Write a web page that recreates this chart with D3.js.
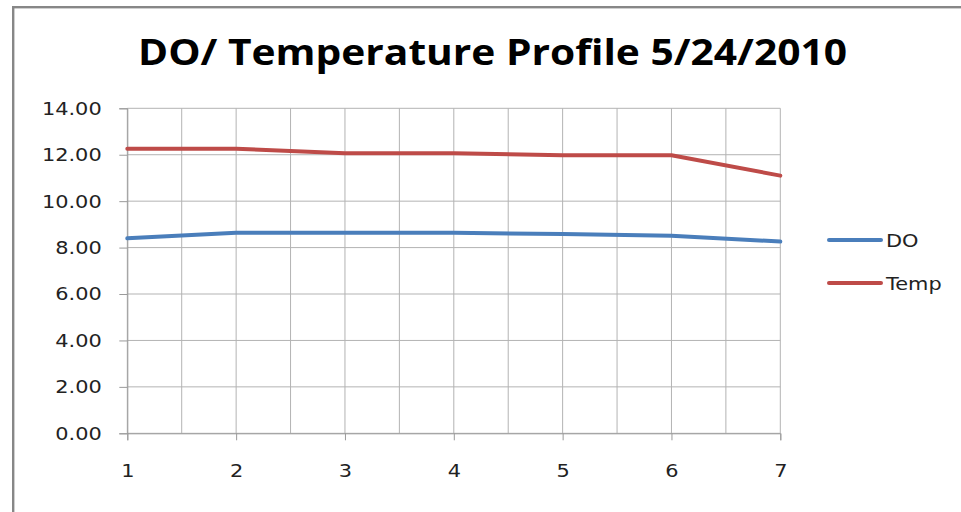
<!DOCTYPE html>
<html><head><meta charset="utf-8">
<script src="https://cdn.jsdelivr.net/npm/d3@7"></script>
<style>html,body{margin:0;padding:0;background:#fff;overflow:hidden}</style>
</head><body>
<script>
const categories = [1, 2, 3, 4, 5, 6, 7];
const doValues = [8.40, 8.64, 8.64, 8.64, 8.58, 8.51, 8.26];
const tempValues = [12.26, 12.26, 12.06, 12.06, 11.98, 11.98, 11.10];
const yTicks = [0, 2, 4, 6, 8, 10, 12, 14];
const seriesNames = ["DO", "Temp"];
const title = "DO/ Temperature Profile 5/24/2010";

(function () {
const W = 961, H = 512;
const FS = 18.5, SX = 1.13;
const labelFont = "'DejaVu Sans', Verdana, sans-serif";
const svg = d3.select("body").append("svg").attr("width", W).attr("height", H);
svg.append("rect").attr("x", 13.2).attr("y", 7.2).attr("width", 980).attr("height", 540)
  .attr("fill", "#fff").attr("stroke", "#878787").attr("stroke-width", 2.4);

const pLeft = 127.3, pRight = 780.3, pTop = 108.3, pBottom = 433.3;
const x = d3.scaleLinear().domain([1, 7]).range([pLeft, pRight]);
const y = d3.scaleLinear().domain([0, 14]).range([pBottom, pTop]);

const t = svg.append("text").attr("x", (138 + 847) / 2).attr("y", 65)
  .attr("text-anchor", "middle").attr("font-family", "'Open Sans', sans-serif")
  .attr("font-weight", "bold").attr("font-size", 35).attr("fill", "#000").text(title);
t.attr("textLength", 709).attr("lengthAdjust", "spacingAndGlyphs");

// grid
const halfTicks = d3.range(1, 7.01, 0.5);
const g = svg.append("g");
g.selectAll("line.v").data(halfTicks).join("line")
  .attr("x1", d => x(d)).attr("x2", d => x(d)).attr("y1", pTop).attr("y2", pBottom)
  .attr("stroke", "#b3b3b3").attr("stroke-width", 1);
g.selectAll("line.h").data(yTicks).join("line")
  .attr("x1", pLeft).attr("x2", pRight).attr("y1", d => y(d)).attr("y2", d => y(d))
  .attr("stroke", "#b3b3b3").attr("stroke-width", 1);

// y axis
const yAxis = svg.append("g").attr("transform", `translate(${pLeft},0)`)
  .call(d3.axisLeft(y).tickValues(yTicks).tickFormat(d3.format(".2f")).tickSize(8).tickPadding(25.6 / SX - 8));
yAxis.select(".domain").attr("stroke", "#9a9a9a");
yAxis.selectAll(".tick line").attr("stroke", "#9a9a9a");
yAxis.selectAll("text").attr("font-family", labelFont).attr("font-size", FS).attr("fill", "#222")
  .attr("transform", `scale(${SX},1)`);

// x axis
const xAxis = svg.append("g").attr("transform", `translate(0,${pBottom})`)
  .call(d3.axisBottom(x).tickValues(categories).tickFormat(d3.format("d")).tickSize(7).tickPadding(23.5));
xAxis.select(".domain").attr("stroke", "#9a9a9a");
xAxis.selectAll(".tick line").attr("stroke", "#9a9a9a");
xAxis.selectAll("text").attr("font-family", labelFont).attr("font-size", FS).attr("fill", "#222")
  .attr("transform", `scale(${SX},1)`);

const colors = ["#4a7ebb", "#be4b48"];
const seriesData = [doValues, tempValues];
const line = d3.line().x((d, i) => x(categories[i])).y(d => y(d));
seriesData.forEach((vals, k) => {
  svg.append("path").datum(vals).attr("d", line).attr("fill", "none")
    .attr("stroke", colors[k]).attr("stroke-width", 4).attr("stroke-linecap", "round").attr("stroke-linejoin", "round");
});

// legend
const leg = svg.append("g");
seriesNames.forEach((n, k) => {
  const ly = 240 + k * 43;
  leg.append("line").attr("x1", 829).attr("x2", 881).attr("y1", ly).attr("y2", ly)
    .attr("stroke", colors[k]).attr("stroke-width", 4).attr("stroke-linecap", "round");
  leg.append("text").attr("x", 886 / SX).attr("y", ly + 7).attr("font-family", labelFont)
    .attr("transform", `scale(${SX},1)`)
    .attr("font-size", FS).attr("fill", "#222").text(n);
});
})();
</script>
</body></html>
